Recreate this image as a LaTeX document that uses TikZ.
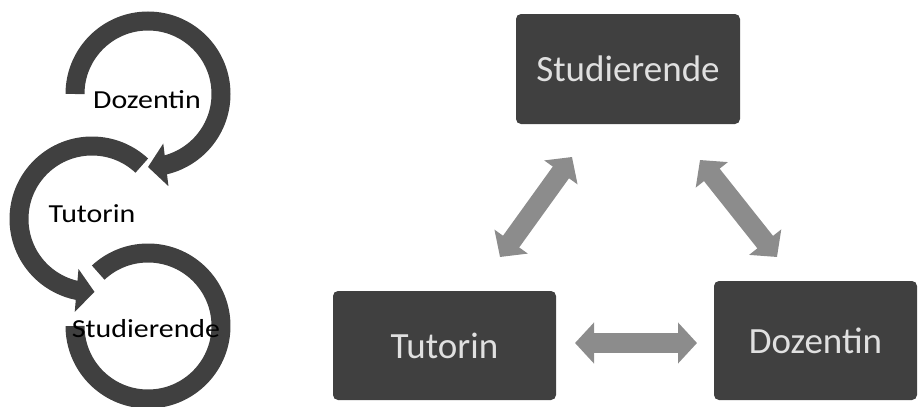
\documentclass[tikz,border=0pt]{standalone}
\usepackage{fontspec}
\setmainfont{Carlito}
\newfontfamily\widefont[FakeStretch=1.15]{Carlito}
\usetikzlibrary{arrows.meta,bending}
\definecolor{boxgray}{HTML}{404040}
\definecolor{arrowgray}{HTML}{8C8C8C}
\tikzset{x=1pt, y=1pt,
    rolebox/.style={fill=boxgray, rounded corners=5pt, inner sep=0pt,
        text=white!88!black, font=\fontsize{37}{40}\selectfont},
    cyclearc/.style={draw=boxgray, line width=19pt},
    cyclehead/.style={-{Triangle[length=18pt,width=42pt]}},
    cyclelabel/.style={inner sep=0pt, font=\widefont\fontsize{26}{30}\selectfont},
    twoway/.style={draw=arrowgray, line width=20pt,
        {Triangle[length=19pt,width=40pt]}-{Triangle[length=19pt,width=40pt]}},
    }
\begin{document}
\begin{tikzpicture}
\useasboundingbox (0,0) rectangle (919,-407);

% left: circular arrows
\draw[cyclearc, cyclehead] (75,-94) arc[start angle=180, end angle=-90, radius=73pt];
\draw[cyclearc, cyclehead] (92,-219) ++(47:73) arc[start angle=47, end angle=272, radius=73pt];
\draw[cyclearc] (148,-326) ++(133:73) arc[start angle=133, end angle=-180, radius=73pt];

\node[cyclelabel] (lDoz) at (147,-100) {Dozentin};
\node[cyclelabel] (lTut) at (92,-214) {Tutorin};
\node[cyclelabel] (lStud) at (146,-329) {Studierende};

% right: triangle of roles
\node[rolebox, minimum width=224pt, minimum height=110pt] (stud) at (628,-69) {Studierende};
\node[rolebox, minimum width=223pt, minimum height=109pt] (tut) at (444.5,-345.5) {Tutorin};
\node[rolebox, minimum width=203pt, minimum height=119pt] (doz) at (815.5,-340.5) {Dozentin};

\coordinate (tutR) at (575,-343);
\coordinate (dozL) at (697,-343);
\coordinate (tutU) at (500,-257);
\coordinate (studL) at (572,-157);
\coordinate (studR) at (700,-160);
\coordinate (dozU) at (777,-257);

\draw[twoway] (tutR) -- (dozL);
\draw[twoway] (tutU) -- (studL);
\draw[twoway] (studR) -- (dozU);
\end{tikzpicture}
\end{document}
